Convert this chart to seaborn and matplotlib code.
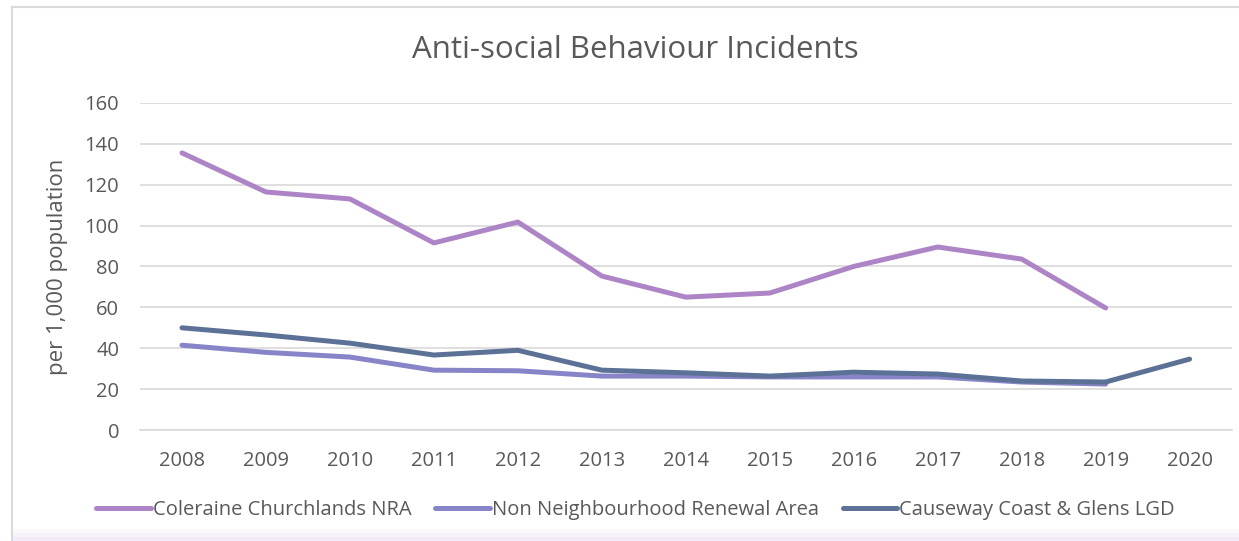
import numpy as np
import pandas as pd
import matplotlib
matplotlib.use("Agg")
import matplotlib.pyplot as plt
import seaborn as sns
from matplotlib.lines import Line2D
from matplotlib.patches import Rectangle

years = ["2008", "2009", "2010", "2011", "2012", "2013", "2014", "2015", "2016", "2017", "2018", "2019", "2020"]
coleraine = [135.5, 116.4, 113.0, 91.5, 101.7, 75.3, 65.0, 67.0, 80.0, 89.5, 83.6, 59.7, np.nan]
non_nra = [41.5, 38.0, 35.7, 29.3, 29.0, 26.4, 26.4, 26.0, 26.0, 26.0, 23.5, 22.5, np.nan]
causeway = [50.0, 46.5, 42.5, 36.7, 39.0, 29.3, 28.0, 26.4, 28.3, 27.4, 24.0, 23.5, 34.7]
series_names = ["Coleraine Churchlands NRA", "Non Neighbourhood Renewal Area", "Causeway Coast & Glens LGD"]
colors = ["#AD84C6", "#8784C7", "#5B7196"]

rows = []
for name, vals in zip(series_names, [coleraine, non_nra, causeway]):
    for i, (y, v) in enumerate(zip(years, vals)):
        rows.append({"idx": i, "year": y, "value": v, "series": name})
df = pd.DataFrame(rows)

sns.set_theme(style="white")
plt.rcParams['font.family'] = ['Open Sans', 'DejaVu Sans']

W, H = 1239, 541
fig = plt.figure(figsize=(12.39, 5.41), dpi=100)

# chart frame: light border at top/left with a faint lavender shade at the bottom
for k, shade in enumerate(["#FBF8FD", "#F7F1FA", "#F3ECF8"]):
    h = (12 - 4 * k) / H
    fig.patches.append(Rectangle((12 / W, 0), 1.0, h, transform=fig.transFigure,
                                 facecolor=shade, edgecolor="none", zorder=0))
fig.patches.append(Rectangle((12 / W, -0.01), 1.0, (H - 7) / H + 0.01, transform=fig.transFigure,
                             facecolor="none", edgecolor="#DADADA", linewidth=1.5, zorder=1))

ax = fig.add_axes([0.113, 0.205, 0.881, 0.605])

sns.lineplot(data=df, x="idx", y="value", hue="series", hue_order=series_names,
             palette=colors, linewidth=3.6, ax=ax, legend=False, sort=False)

ax.set_xlim(-0.5, len(years) - 0.5)
ax.set_ylim(0, 160)
ax.set_yticks(np.arange(0, 161, 20))
ax.set_xticks(range(len(years)))
ax.set_xticklabels(years)
ax.yaxis.grid(True, color="#D9D9D9", linewidth=1.2)
ax.set_axisbelow(True)
ax.patch.set_alpha(0)
for s in ["top", "right", "left"]:
    ax.spines[s].set_visible(False)
ax.spines["bottom"].set_color("#D9D9D9")
ax.spines["bottom"].set_linewidth(1.2)
ax.tick_params(axis="both", labelsize=14.5, colors="#595959", length=0)
ax.tick_params(axis="x", pad=15)
ax.tick_params(axis="y", pad=15)
ax.set_xlabel("")
ax.set_ylabel("per 1,000 population", fontsize=16, color="#595959", labelpad=12)

fig.text(0.513, 0.908, "Anti-social Behaviour Incidents", ha="center", va="center",
         fontsize=22.5, color="#595959")

handles = [Line2D([0], [0], color=c, linewidth=3.6) for c in colors]
fig.legend(handles, series_names, loc="center", bbox_to_anchor=(0.513, 0.057), ncol=3,
           frameon=False, fontsize=14.5, labelcolor="#595959", handlelength=2.7,
           handletextpad=0.1, columnspacing=1.2)

fig.savefig("out.png", dpi=100, facecolor="white")
